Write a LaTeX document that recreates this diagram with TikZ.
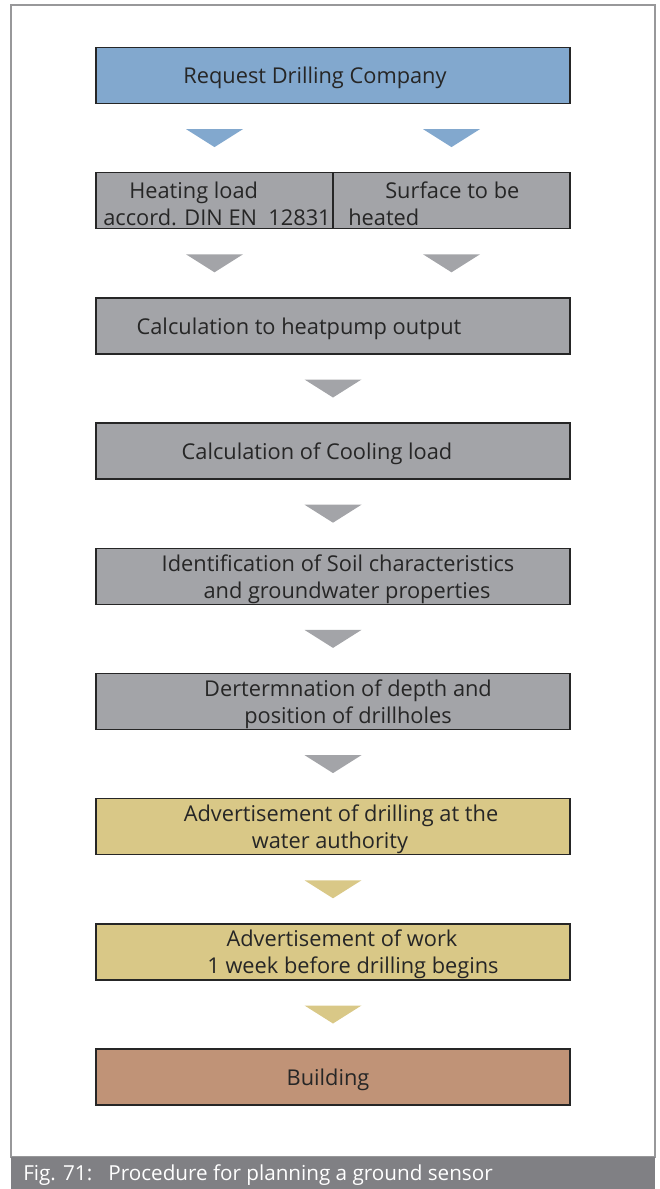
\documentclass[tikz,border=0pt]{standalone}
\usepackage{fontspec}
\setmainfont{Open Sans}
\usetikzlibrary{positioning,calc}
\definecolor{reqblue}{RGB}{130,168,206}
\definecolor{calcgrey}{RGB}{163,164,168}
\definecolor{permitsand}{RGB}{217,200,135}
\definecolor{buildbrown}{RGB}{192,147,119}
\definecolor{framegrey}{RGB}{152,152,154}
\definecolor{capgrey}{RGB}{128,128,132}
\definecolor{ink}{RGB}{38,38,38}
\tikzset{
  stagebox/.style={draw=ink,line width=0.9pt,minimum width=11.85cm,minimum height=1.4cm,inner sep=0pt,outer sep=0pt},
  stagetext/.style={text=ink,align=center,inner sep=0pt,yshift=-0.07cm,font=\fontsize{15.5}{19.2}\selectfont},
  halftext/.style={stagetext,align=left}
}
\newcommand{\stage}[5]{\node[stagebox,fill=#3,#2] (#1) {}; \node[stagetext] (#1t) at ([xshift=#4cm]#1.center) {#5};}
\newcommand{\flow}[4]{\fill[#3] ($(#1)!0.5!(#2)+(#4,0)$) ++(-0.7125,0.225) -- ++(1.425,0) -- ++(-0.7125,-0.45) -- cycle;}

\begin{document}
\begin{tikzpicture}
    \useasboundingbox (0,0) rectangle (16.475,-29.725);
    \draw[framegrey,line width=1.4pt] (0.275,-0.125) rectangle (16.375,-28.925);
    \fill[capgrey] (0.275,-28.925) rectangle (16.375,-29.725);
    \node[stagetext,text=white,anchor=west,font=\fontsize{14.7}{18}\selectfont] (cap) at (0.575,-29.3) {Fig. 71:\ \ \ Procedure for planning a ground sensor};

    \stage{b1}{at={(8.325,-1.8875)}}{reqblue}{-0.45}{Request Drilling Company}
    \stage{b2}{below=1.73cm of b1}{calcgrey}{0}{}
    \draw[ink,line width=0.9pt] (b2.north) -- (b2.south);
    \node[halftext,anchor=west] (b2l) at ([xshift=0.175cm]b2.west) {\hspace*{0.65cm}Heating load\\accord. DIN EN\ \ 12831};
    \node[halftext,anchor=west] (b2r) at ([xshift=0.375cm]b2.center) {\hspace*{0.925cm}Surface to be\\heated};
    \stage{b3}{below=1.73cm of b2}{calcgrey}{-0.85}{Calculation to heatpump output}
    \stage{b4}{below=1.73cm of b3}{calcgrey}{-0.4}{Calculation of Cooling load}
    \stage{b5}{below=1.73cm of b4}{calcgrey}{0.125}{Identification of Soil characteristics\\\hspace*{0.45cm}and groundwater properties}
    \stage{b6}{below=1.73cm of b5}{calcgrey}{0.375}{Dertermnation of depth and\\position of drillholes}
    \stage{b7}{below=1.73cm of b6}{permitsand}{-0.075}{\hspace*{0.55cm}Advertisement of drilling at the\\water authority}
    \stage{b8}{below=1.73cm of b7}{permitsand}{0.225}{Advertisement of work\\\hspace*{0.55cm}1 week before drilling begins}
    \stage{b9}{below=1.73cm of b8}{buildbrown}{-0.125}{Building}

    \flow{b1.south}{b2.north}{reqblue}{-2.9625}
    \flow{b1.south}{b2.north}{reqblue}{2.9625}
    \flow{b2.south}{b3.north}{calcgrey}{-2.9625}
    \flow{b2.south}{b3.north}{calcgrey}{2.9625}
    \flow{b3.south}{b4.north}{calcgrey}{0}
    \flow{b4.south}{b5.north}{calcgrey}{0}
    \flow{b5.south}{b6.north}{calcgrey}{0}
    \flow{b6.south}{b7.north}{calcgrey}{0}
    \flow{b7.south}{b8.north}{permitsand}{0}
    \flow{b8.south}{b9.north}{permitsand}{0}
\end{tikzpicture}
\end{document}
